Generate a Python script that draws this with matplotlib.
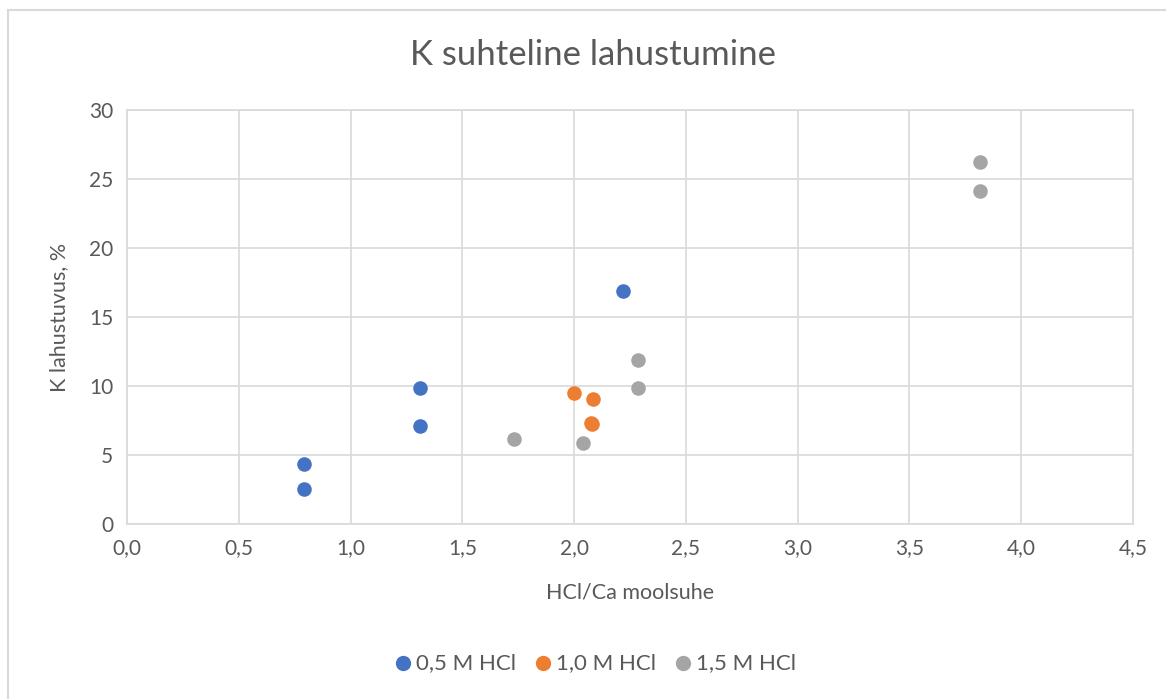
"""K suhteline lahustumine — hajuvusdiagramm HCl/Ca moolsuhte järgi."""
import matplotlib; matplotlib.use("Agg")
import matplotlib.pyplot as plt
from matplotlib.lines import Line2D

plt.rcParams.update({"font.family": ["Lato", "DejaVu Sans"], "text.color": "#595959",
                     "xtick.color": "#595959", "ytick.color": "#595959"})
TXT, GRID = "#595959", "#D9D9D9"

# andmed (loetud pildilt)
x_05 = [0.79, 0.79, 1.31, 1.31, 2.22]
y_05 = [4.35, 2.54, 9.86, 7.10, 16.85]
x_10 = [2.00, 2.085, 2.08, 2.075]
y_10 = [9.49, 9.06, 7.25, 7.35]
x_15 = [1.73, 2.04, 2.285, 2.285, 3.815, 3.815]
y_15 = [6.16, 5.87, 11.88, 9.86, 26.2, 24.1]
labels = ["0,5 M HCl", "1,0 M HCl", "1,5 M HCl"]
colors = ["#4472C4", "#ED7D31", "#A5A5A5"]
xticks = [0, 0.5, 1.0, 1.5, 2.0, 2.5, 3.0, 3.5, 4.0, 4.5]
yticks = [0, 5, 10, 15, 20, 25, 30]

fig = plt.figure(figsize=(11.66, 6.99), dpi=100)
ax = fig.add_axes([127/1166, 1 - 524/699, (1133 - 127)/1166, (524 - 110)/699])

for xs, ys, c, l in zip([x_05, x_10, x_15], [y_05, y_10, y_15], colors, labels):
    ax.scatter(xs, ys, s=110, color=c, label=l, zorder=3, linewidths=0)

ax.set_xlim(0, 4.5); ax.set_ylim(0, 30)
ax.set_xticks(xticks); ax.set_xticklabels([f"{t:.1f}".replace(".", ",") for t in xticks])
ax.set_yticks(yticks)
ax.tick_params(length=0, labelsize=15, pad=10)
ax.grid(True, color=GRID, lw=1.2, zorder=0)
for s in ax.spines.values():
    s.set_color(GRID); s.set_linewidth(1.2)

ax.set_xlabel("HCl/Ca moolsuhe", fontsize=15.5, color=TXT, labelpad=18)
ax.set_ylabel("K lahustuvus, %", fontsize=15.5, color=TXT, labelpad=14)
fig.text(593/1166, 1 - 55/699, "K suhteline lahustumine", ha="center", va="center",
         fontsize=25, color=TXT)

fig.legend(loc="center", bbox_to_anchor=(595/1166, 1 - 663/699), ncol=3, frameon=False,
           fontsize=16, handlelength=0.8, handletextpad=0.15, columnspacing=0.85,
           markerscale=1.05)

# diagrammiala raam (vasak + ülemine serv)
fig.add_artist(Line2D([8/1166, 8/1166], [0, 1 - 10/699], color=GRID, lw=1.5))
fig.add_artist(Line2D([8/1166, 1], [1 - 10/699, 1 - 10/699], color=GRID, lw=1.5))

fig.savefig("out.png", dpi=100, facecolor="white")
